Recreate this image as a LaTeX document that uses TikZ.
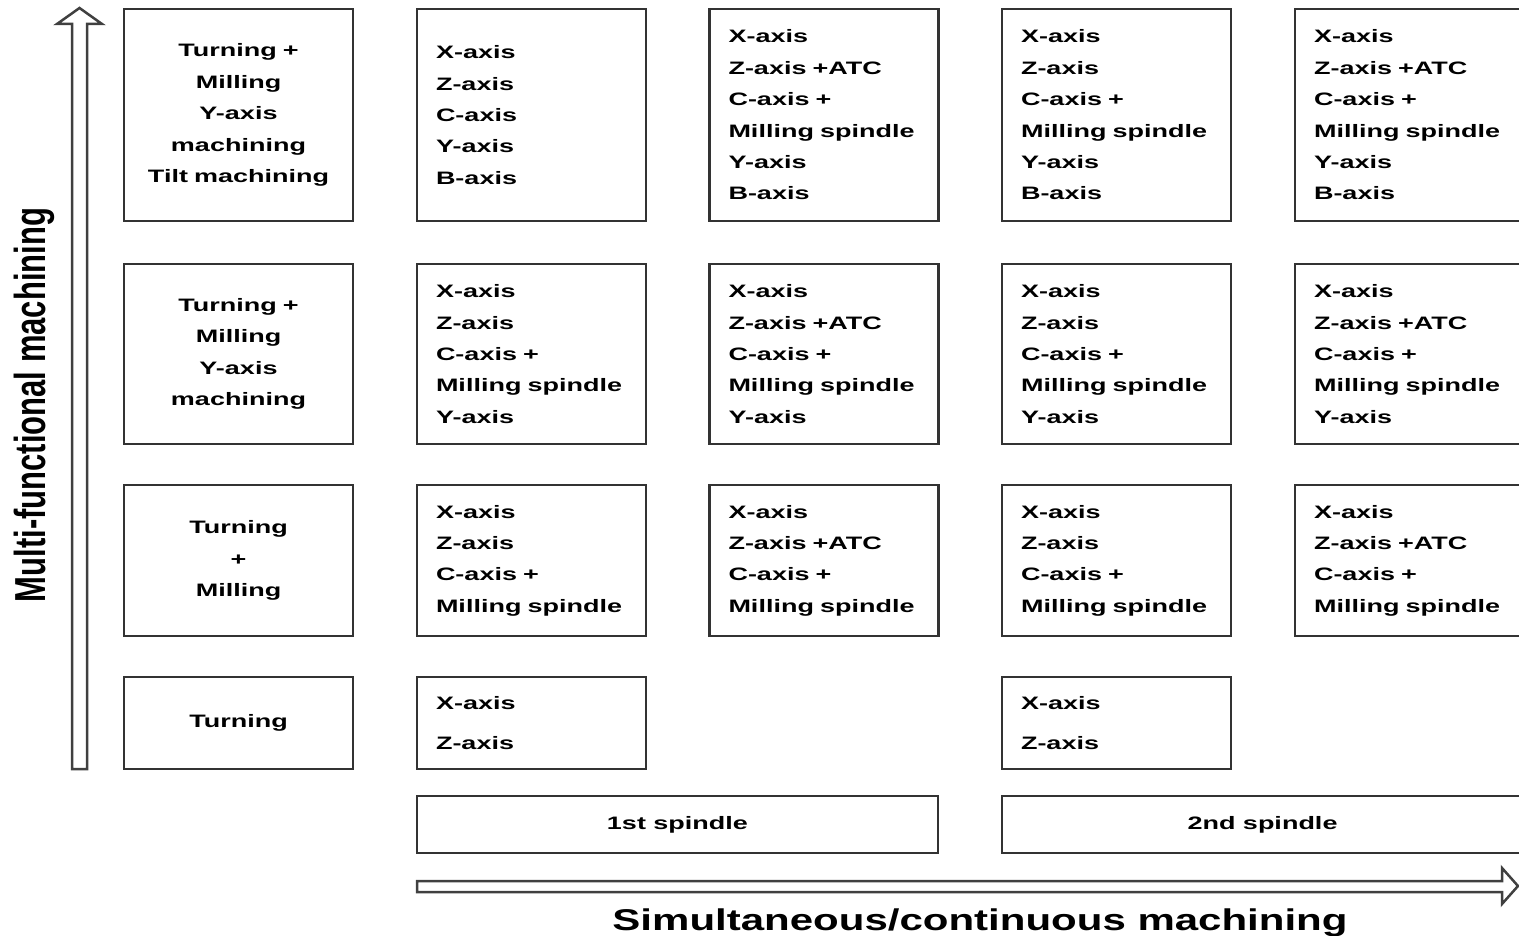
\documentclass[tikz,border=0pt]{standalone}
\usepackage{fontspec}
\usepackage{graphicx}
\setmainfont{Liberation Sans}
\newfontfamily\cellfont{Liberation Sans}[FakeStretch=1.5]
\newfontfamily\titlefont{Liberation Sans}[FakeStretch=1.4]

\begin{document}
\begin{tikzpicture}[x=1pt,y=-1pt,
    cell/.style={draw=black!80, line width=2.5pt, text width=191pt, inner xsep=19pt, inner ysep=0pt,
        minimum height=#1, font=\cellfont\bfseries\fontsize{18}{31.4}\selectfont},
    axiscell/.style={cell=#1, align=left},
    typecell/.style={cell=#1, align=center},
    spindlebox/.style={draw=black!80, line width=2.5pt, minimum width=521pt, minimum height=57pt,
        font=\cellfont\bfseries\fontsize{18}{20}\selectfont},
    hollow/.style={draw=black!75, line width=2.5pt, line join=miter}]
    \useasboundingbox (0,0) rectangle (1519,936);
    \clip (0,0) rectangle (1519,936);

    % top row
    \node[typecell=212pt] (type-a) at (238.5,115) {Turning +\\Milling\\Y-axis\\machining\\Tilt machining};
    \node[axiscell=212pt] (a1) at (531.5,115) {X-axis\\Z-axis\\C-axis\\Y-axis\\B-axis};
    \node[axiscell=212pt] (a2) at (824,115) {X-axis\\Z-axis +ATC\\C-axis +\\Milling spindle\\Y-axis\\B-axis};
    \node[axiscell=212pt] (a3) at (1116.5,115) {X-axis\\Z-axis\\C-axis +\\Milling spindle\\Y-axis\\B-axis};
    \node[axiscell=212pt] (a4) at (1409.5,115) {X-axis\\Z-axis +ATC\\C-axis +\\Milling spindle\\Y-axis\\B-axis};

    \node[typecell=180pt] (type-b) at (238.5,354) {Turning +\\Milling\\Y-axis\\machining};
    \node[axiscell=180pt] (b1) at (531.5,354) {X-axis\\Z-axis\\C-axis +\\Milling spindle\\Y-axis};
    \node[axiscell=180pt] (b2) at (824,354) {X-axis\\Z-axis +ATC\\C-axis +\\Milling spindle\\Y-axis};
    \node[axiscell=180pt] (b3) at (1116.5,354) {X-axis\\Z-axis\\C-axis +\\Milling spindle\\Y-axis};
    \node[axiscell=180pt] (b4) at (1409.5,354) {X-axis\\Z-axis +ATC\\C-axis +\\Milling spindle\\Y-axis};

    \node[typecell=151pt] (type-c) at (238.5,560.5) {Turning\\+\\Milling};
    \node[axiscell=151pt] (c1) at (531.5,560.5) {X-axis\\Z-axis\\C-axis +\\Milling spindle};
    \node[axiscell=151pt] (c2) at (824,560.5) {X-axis\\Z-axis +ATC\\C-axis +\\Milling spindle};
    \node[axiscell=151pt] (c3) at (1116.5,560.5) {X-axis\\Z-axis\\C-axis +\\Milling spindle};
    \node[axiscell=151pt] (c4) at (1409.5,560.5) {X-axis\\Z-axis +ATC\\C-axis +\\Milling spindle};

    % bottom row
    \node[typecell=92pt] (type-d) at (238.5,723) {Turning};
    \node[axiscell=92pt] (d1) at (531.5,723) {X-axis\\[8pt]Z-axis};
    \node[axiscell=92pt] (d3) at (1116.5,723) {X-axis\\[8pt]Z-axis};

    \node[spindlebox] (spindle1) at (677.5,824.5) {1st spindle};
    \node[spindlebox] (spindle2) at (1262.5,824.5) {2nd spindle};

    % hollow arrows
    \draw[hollow] (72,769) -- (72,24) -- (57,24) -- (79.5,8) -- (102,24) -- (87,24) -- (87,769) -- cycle;
    \draw[hollow] (417,881) -- (1502,881) -- (1502,868) -- (1518,886) -- (1502,904) -- (1502,892) -- (417,892) -- cycle;

    \node[rotate=90, font=\bfseries\fontsize{31}{31}\selectfont] (multi) at (34,405) {\scalebox{1}[1.4]{Multi-functional machining}};
    \node[anchor=base, font=\titlefont\bfseries\fontsize{30}{30}\selectfont] (simul) at (980,930) {Simultaneous/continuous machining};
\end{tikzpicture}
\end{document}
